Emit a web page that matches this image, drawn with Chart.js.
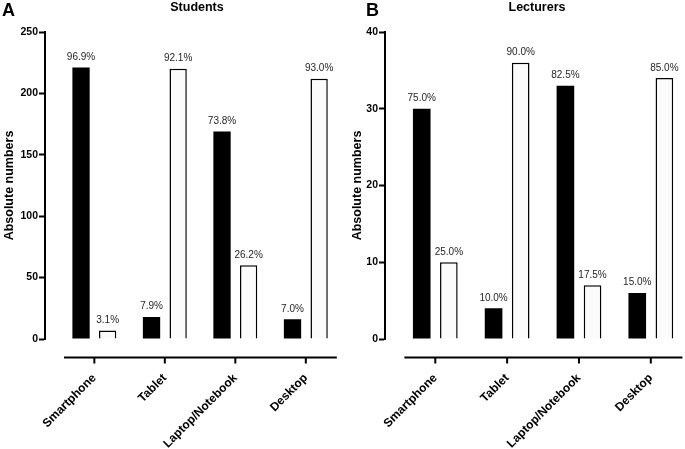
<!DOCTYPE html>
<html>
<head>
<meta charset="utf-8">
<script src="https://cdn.jsdelivr.net/npm/chart.js@4.4.1/dist/chart.umd.min.js"></script>
<style>
  html, body { margin: 0; padding: 0; background: #fff; }
  .panel { position: absolute; top: 0; height: 449px; }
  #panelA { left: 0; width: 340px; }
  #panelB { left: 340px; width: 345px; }
</style>
</head>
<body>
<div class="panel" id="panelA"><canvas id="chartA"></canvas></div>
<div class="panel" id="panelB"><canvas id="chartB"></canvas></div>
<script>
const categories = ["Smartphone", "Tablet", "Laptop/Notebook", "Desktop"];

// Students - absolute numbers and share in %
const studentsYes = [221, 18, 169, 16];
const studentsNo = [7, 220, 60, 212];
const studentsYesPct = [96.9, 7.9, 73.8, 7.0];
const studentsNoPct = [3.1, 92.1, 26.2, 93.0];
const studentsTicks = [0, 50, 100, 150, 200, 250];

// Lecturers
const lecturersYes = [30, 4, 33, 6];
const lecturersNo = [10, 36, 7, 34];
const lecturersYesPct = [75.0, 10.0, 82.5, 15.0];
const lecturersNoPct = [25.0, 90.0, 17.5, 85.0];
const lecturersTicks = [0, 10, 20, 30, 40];

const FONT = "'Liberation Sans', Arial, Helvetica, sans-serif";
Chart.defaults.font.family = FONT;
Chart.defaults.color = "#000";

// draws panel letter, title, the detached x axis and the % labels
const panelDecor = {
  id: "panelDecor",
  afterDraw(chart, args, opts) {
    const ctx = chart.ctx;
    const xs = chart.scales.x;
    const area = chart.chartArea;
    ctx.save();
    ctx.fillStyle = "#000";
    ctx.textBaseline = "alphabetic";
    ctx.textAlign = "left";
    ctx.font = "bold 18px " + FONT;
    ctx.fillText(opts.letter, opts.letterX, 16);

    ctx.textAlign = "center";
    ctx.font = "bold 12.5px " + FONT;
    ctx.fillText(opts.title, 197, 11);

    // x axis sits a bit below the zero line
    const axisY = area.bottom + 18.5;
    ctx.strokeStyle = "#000";
    ctx.lineWidth = 2;
    ctx.beginPath();
    ctx.moveTo(xs.getPixelForValue(-0.43), axisY);
    ctx.lineTo(area.right, axisY);
    xs.ticks.forEach((t) => {
      const px = xs.getPixelForValue(t.value);
      ctx.moveTo(px, axisY);
      ctx.lineTo(px, axisY + 6);
    });
    ctx.stroke();

    ctx.font = "10px " + FONT;
    ctx.fillStyle = "#262626";
    chart.data.datasets.forEach((ds, i) => {
      chart.getDatasetMeta(i).data.forEach((bar, j) => {
        ctx.fillText(ds.pct[j].toFixed(1) + "%", bar.x, bar.y - 7.5);
      });
    });
    ctx.restore();
  },
};

function makePanel(canvasId, yes, no, yesPct, noPct, yTicks, opts) {
  const toPoints = (arr) => arr.map((v, i) => ({ x: i, y: v }));

  return new Chart(document.getElementById(canvasId), {
    type: "bar",
    data: {
      datasets: [
        {
          label: "Yes",
          data: toPoints(yes),
          pct: yesPct,
          backgroundColor: "#000",
          borderWidth: 0,
          categoryPercentage: 0.755,
          barPercentage: 0.65,
        },
        {
          label: "No",
          data: toPoints(no),
          pct: noPct,
          backgroundColor: "#fbfbfb",
          borderColor: "#000",
          borderWidth: 1.5,
          categoryPercentage: 0.755,
          barPercentage: 0.65,
        },
      ],
    },
    options: {
      responsive: true,
      maintainAspectRatio: false,
      animation: false,
      layout: { padding: { top: 32, left: 0, right: 0, bottom: 0 } },
      plugins: {
        legend: { display: false },
        tooltip: { enabled: false },
        panelDecor: opts,
      },
      scales: {
        x: {
          type: "linear",
          offset: false,
          min: -0.7,
          max: 3.44,
          grid: { display: false },
          border: { display: false },
          afterBuildTicks: (scale) => {
            scale.ticks = categories.map((c, i) => ({ value: i }));
          },
          afterFit: (scale) => {
            scale.height = 110;
          },
          ticks: {
            autoSkip: false,
            minRotation: 45,
            maxRotation: 45,
            padding: 24,
            color: "#000",
            font: { size: 12, weight: "bold" },
            callback: (v) => categories[v],
          },
        },
        y: {
          min: 0,
          max: yTicks[yTicks.length - 1],
          afterBuildTicks: (scale) => {
            scale.ticks = yTicks.map((v) => ({ value: v }));
          },
          afterFit: (scale) => {
            scale.width = 45;
          },
          border: { display: true, color: "#000", width: 2 },
          grid: {
            drawOnChartArea: false,
            tickLength: 6,
            tickWidth: 2,
            tickColor: "#000",
          },
          ticks: {
            padding: 1,
            color: "#000",
            font: { size: 10.5, weight: "bold" },
          },
          title: {
            display: true,
            text: "Absolute numbers",
            color: "#000",
            font: { size: 12.5, weight: "bold" },
            padding: { top: opts.titlePad, bottom: 0 },
          },
        },
      },
    },
    plugins: [panelDecor],
  });
}

makePanel("chartA", studentsYes, studentsNo, studentsYesPct, studentsNoPct, studentsTicks,
  { letter: "A", letterX: 2, title: "Students", titlePad: 2 });
makePanel("chartB", lecturersYes, lecturersNo, lecturersYesPct, lecturersNoPct, lecturersTicks,
  { letter: "B", letterX: 26, title: "Lecturers", titlePad: 10 });
</script>
</body>
</html>
